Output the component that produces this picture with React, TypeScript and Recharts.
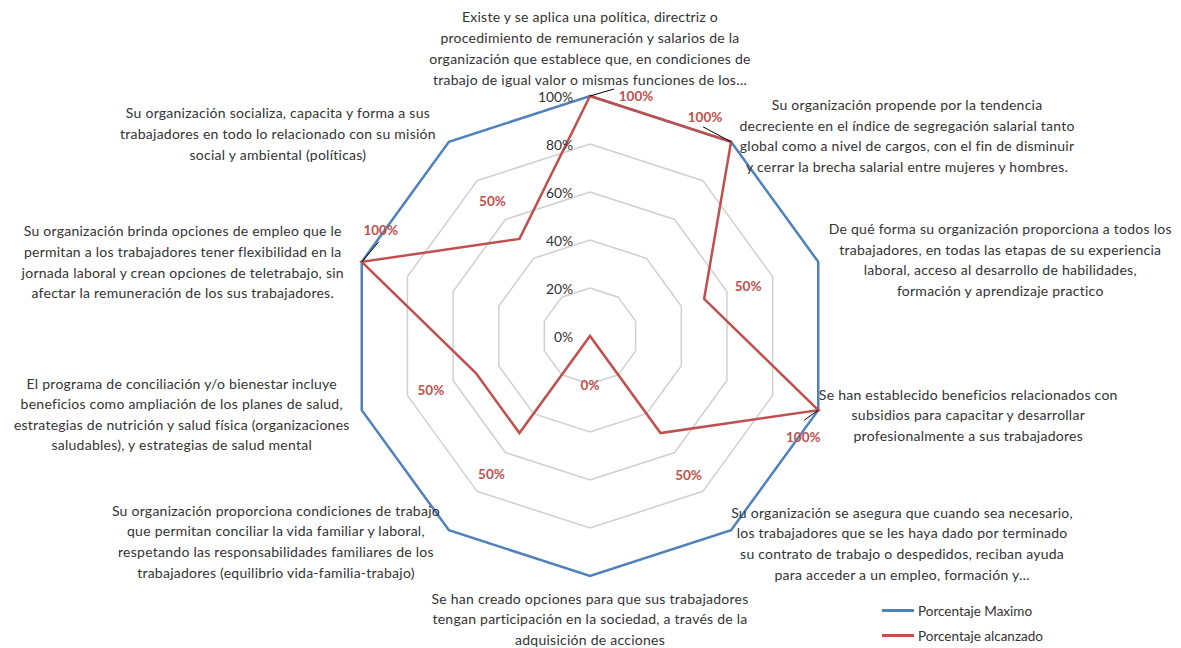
import React from 'react';
import {
  RadarChart,
  Radar,
  PolarGrid,
  PolarAngleAxis,
  PolarRadiusAxis,
  Legend
} from 'recharts';

// category labels, one array of text lines per spoke (clockwise from top)
const categoryLines: string[][] = [
  [
    'Existe y se aplica una política, directriz o',
    'procedimiento de remuneración y salarios de la',
    'organización que establece que, en condiciones de',
    'trabajo de igual valor o mismas funciones de los…'
  ],
  [
    'Su organización propende por la tendencia',
    'decreciente en el índice de segregación salarial tanto',
    'global como a nivel de cargos, con el fin de disminuir',
    'y cerrar la brecha salarial entre mujeres y hombres.'
  ],
  [
    'De qué forma su organización proporciona a todos los',
    'trabajadores, en todas las etapas de su experiencia',
    'laboral, acceso al desarrollo de habilidades,',
    'formación y aprendizaje practico'
  ],
  [
    'Se han establecido beneficios relacionados con',
    'subsidios para capacitar y desarrollar',
    'profesionalmente a sus trabajadores'
  ],
  [
    'Su organización se asegura que cuando sea necesario,',
    'los trabajadores que se les haya dado por terminado',
    'su contrato de trabajo o despedidos, reciban ayuda',
    'para acceder a un empleo, formación y…'
  ],
  [
    'Se han creado opciones para que sus trabajadores',
    'tengan participación en la sociedad, a través de la',
    'adquisición de acciones'
  ],
  [
    'Su organización proporciona condiciones de trabajo',
    'que permitan conciliar la vida familiar y laboral,',
    'respetando las responsabilidades familiares de los',
    'trabajadores (equilibrio vida-familia-trabajo)'
  ],
  [
    'El programa de conciliación y/o bienestar incluye',
    'beneficios como ampliación de los planes de salud,',
    'estrategias de nutrición y salud física (organizaciones',
    'saludables), y estrategias de salud mental'
  ],
  [
    'Su organización brinda opciones de empleo que le',
    'permitan a los trabajadores tener flexibilidad en la',
    'jornada laboral y crean opciones de teletrabajo, sin',
    'afectar la remuneración de los sus trabajadores.'
  ],
  [
    'Su organización socializa, capacita y forma a sus',
    'trabajadores en todo lo relacionado con su misión',
    'social y ambiental (políticas)'
  ]
];

const maxValues = [100, 100, 100, 100, 100, 100, 100, 100, 100, 100];
const reachedValues = [100, 100, 50, 100, 50, 0, 50, 50, 100, 50];
const radiusTicks = [0, 20, 40, 60, 80, 100];

const data = categoryLines.map((lines, i) => ({
  category: lines.join(' '),
  max: maxValues[i],
  reached: reachedValues[i]
}));

const BLUE = '#4F81BD';
const RED = '#C0504D';
const FONT = 'Lato, "Open Sans", sans-serif';

const CX = 582;
const CY = 328;
const R = 240;

// where each category text block sits relative to its spoke end
const labelOffsets = [
  [0, -80, 21],
  [176, -37, 20.5],
  [182, -33, 20.5],
  [150, -16, 20.5],
  [171, -18, 20.7],
  [0, 22, 20.8],
  [-173, -20, 20.7],
  [-180, -27, 20.5],
  [-179, -31, 20.7],
  [-171, -29, 20.7]
];

// data label offsets [dx, dy, leaderX, leaderY] relative to the red point
const valueLabelOffsets = [
  [46, 0, 24, -7],
  [-26, -25, -28, -15],
  [44, -13, 0, 0],
  [-15, 27, -14, 10],
  [28, 42, 0, 0],
  [0, 49, 0, 0],
  [-28, 41, 0, 0],
  [-45, 17, 0, 0],
  [19, -32, 17, -20],
  [-27, -38, 0, 0]
];

const CategoryTick = ({ index }: any) => {
  const ang = ((90 - 36 * index) * Math.PI) / 180;
  const vx = CX + R * Math.cos(ang);
  const vy = CY - R * Math.sin(ang);
  const [dx, dy, lh] = labelOffsets[index];
  const lines = categoryLines[index];
  return (
    <text
      x={vx + dx}
      y={vy + dy}
      textAnchor="middle"
      fontFamily={FONT}
      fontSize={14}
      letterSpacing={0.25}
      fill="#333"
    >
      {lines.map((l, i) => (
        <tspan key={i} x={vx + dx} y={vy + dy + i * lh} dominantBaseline="central">
          {l}
        </tspan>
      ))}
    </text>
  );
};

const RadiusTick = ({ y, payload }: any) => (
  <text
    x={CX - 17}
    y={y}
    textAnchor="end"
    dominantBaseline="central"
    fontFamily={FONT}
    fontSize={13.8}
    fill="#333"
  >
    {`${payload.value}%`}
  </text>
);

const ValueLabel = (props: any) => {
  const { x, y, value, index } = props;
  if (x == null || y == null) return null;
  const [dx, dy, lx, ly] = valueLabelOffsets[index];
  return (
    <g>
      {(lx !== 0 || ly !== 0) && (
        <line x1={x} y1={y} x2={x + lx} y2={y + ly} stroke="#000" strokeWidth={1} />
      )}
      <text
        x={x + dx}
        y={y + dy}
        textAnchor="middle"
        dominantBaseline="central"
        fontFamily={FONT}
        fontSize={13.5}
        fontWeight="bold"
        fill={RED}
      >
        {`${value}%`}
      </text>
    </g>
  );
};

const LegendContent = () => (
  <div style={{ fontFamily: FONT, fontSize: 13.5, color: '#333' }}>
    {[
      { name: 'Porcentaje Maximo', color: BLUE },
      { name: 'Porcentaje alcanzado', color: RED }
    ].map((item) => (
      <div key={item.name} style={{ display: 'flex', alignItems: 'center', height: 25 }}>
        <span
          style={{
            display: 'inline-block',
            width: 32,
            height: 3,
            background: item.color,
            marginRight: 4
          }}
        />
        <span>{item.name}</span>
      </div>
    ))}
  </div>
);

export default function App() {
  return (
    <RadarChart
      width={1173}
      height={640}
      data={data}
      cx={CX}
      cy={CY}
      outerRadius={R}
      margin={{ top: 0, right: 0, bottom: 0, left: 0 }}
    >
      <PolarGrid gridType="polygon" radialLines={false} stroke="#D0D0D0" strokeWidth={1.5} />
      <PolarAngleAxis
        dataKey="category"
        tick={<CategoryTick />}
        tickLine={false}
        axisLine={false}
      />
      <PolarRadiusAxis
        angle={90}
        domain={[0, 100]}
        ticks={radiusTicks as any}
        tickCount={6}
        axisLine={false}
        tickLine={false}
        tick={<RadiusTick />}
      />
      <Radar
        name="Porcentaje Maximo"
        dataKey="max"
        stroke={BLUE}
        strokeWidth={2.5}
        fill="none"
        fillOpacity={0}
        dot={false}
        isAnimationActive={false}
      />
      <Radar
        name="Porcentaje alcanzado"
        dataKey="reached"
        stroke={RED}
        strokeWidth={2.5}
        fill="none"
        fillOpacity={0}
        dot={false}
        label={<ValueLabel />}
        isAnimationActive={false}
      />
      <Legend
        content={<LegendContent />}
        layout="vertical"
        align="right"
        verticalAlign="middle"
        wrapperStyle={{ position: 'absolute', left: 874, top: 590, width: 220 }}
      />
    </RadarChart>
  );
}
